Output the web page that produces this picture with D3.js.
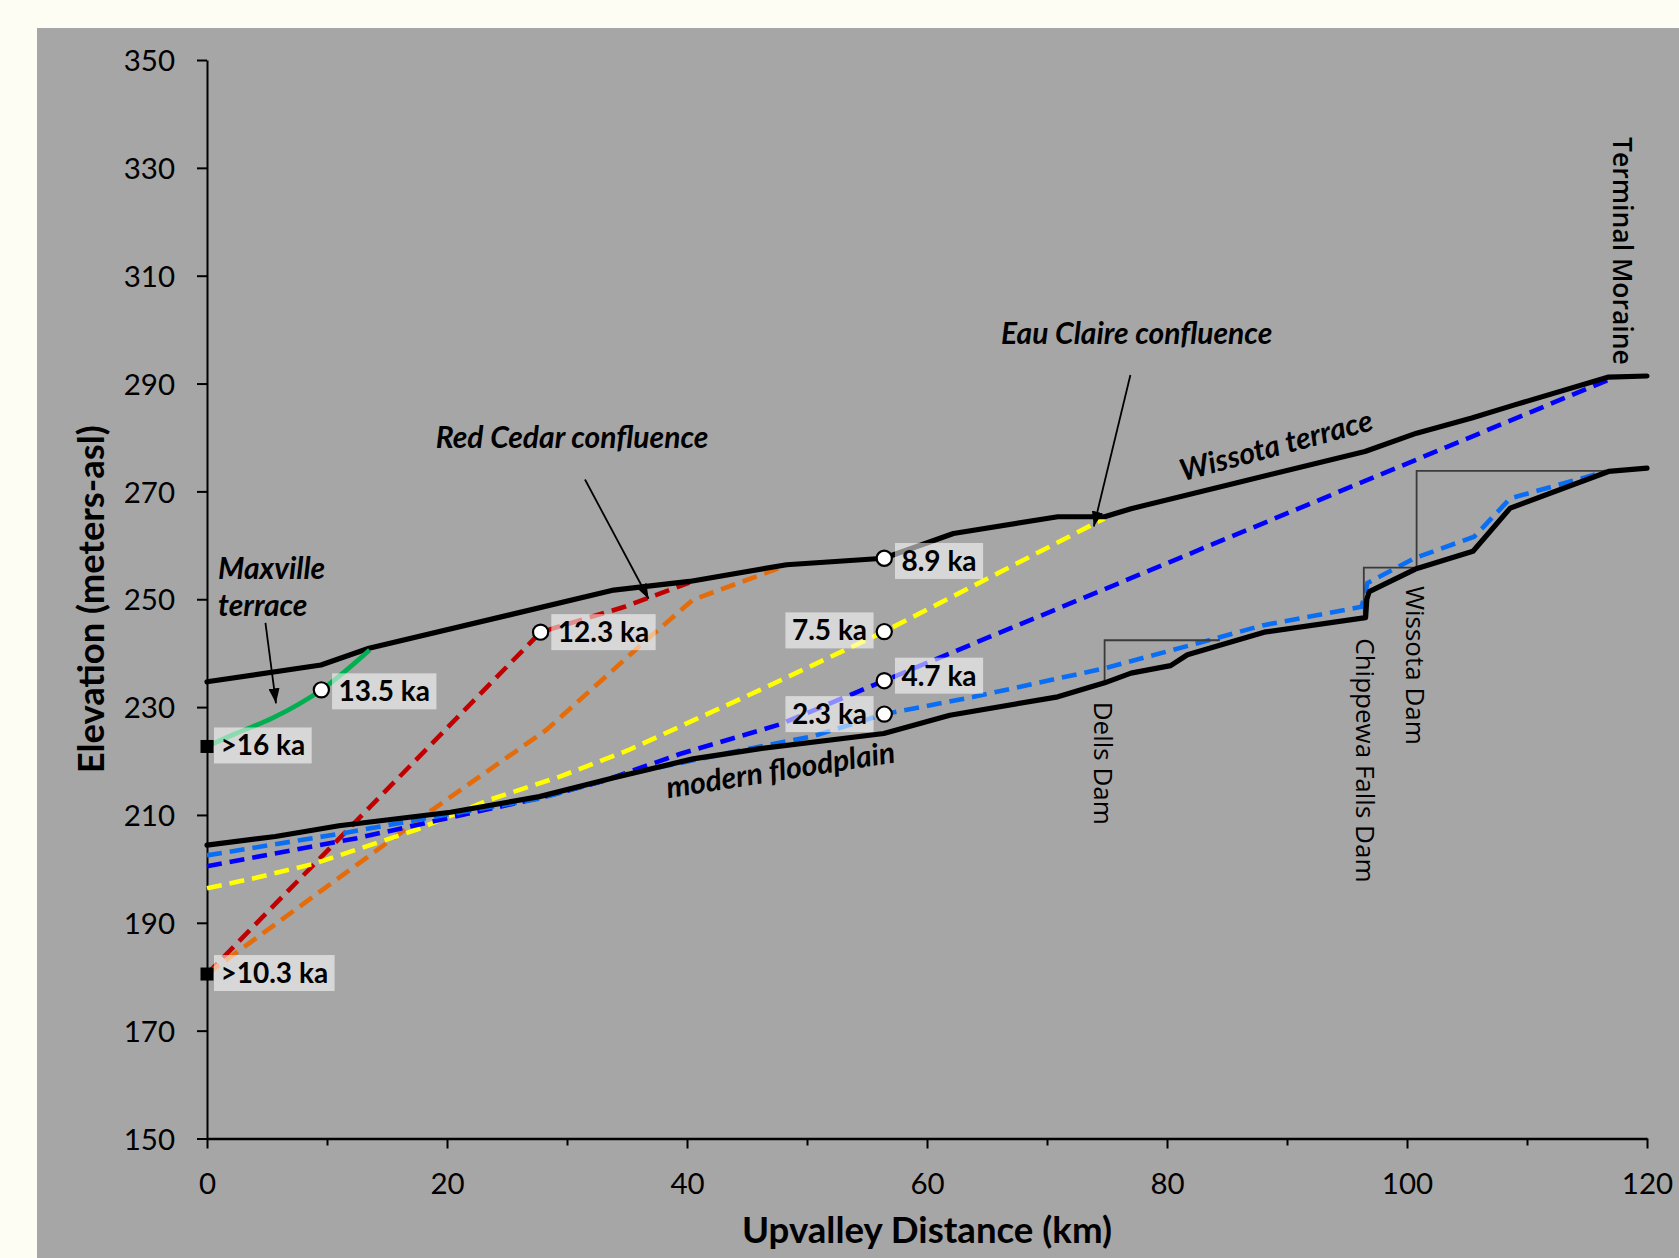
<!DOCTYPE html>
<html>
<head>
<meta charset="utf-8">
<script src="https://cdn.jsdelivr.net/npm/d3@7"></script>
<style>
  html, body { margin: 0; padding: 0; background: #FDFDF3; }
  svg { display: block; }
</style>
</head>
<body>
<svg id="chart" width="1679" height="1258"></svg>
<script>
// ---------------- DATA ----------------
const xTicks = [0, 10, 20, 30, 40, 50, 60, 70, 80, 90, 100, 110, 120];
const xTickLabels = ["0", "", "20", "", "40", "", "60", "", "80", "", "100", "", "120"];
const yTicks = [150, 170, 190, 210, 230, 250, 270, 290, 310, 330, 350];

// Wissota terrace (upper black line)
const wissotaKm   = [0, 9.5, 13.5, 33.9, 40.2, 48.3, 56.4, 62.2, 70.9, 74.8, 77.0, 86.0, 96.5, 100.8, 105.4, 108.9, 116.8, 120];
const wissotaElev = [234.7, 237.8, 240.9, 251.7, 253.3, 256.4, 257.6, 262.2, 265.3, 265.3, 266.8, 271.7, 277.4, 280.8, 283.6, 286.0, 291.2, 291.4];

// modern floodplain (lower black line)
const floodKm   = [0, 5.7, 11, 20.3, 27.7, 33.9, 40.5, 46.1, 56.4, 61.9, 70.9, 74.8, 77.0, 80.3, 81.7, 88.1, 96.55, 96.65, 96.85, 100.7, 105.5, 108.6, 116.8, 120];
const floodElev = [204.4, 206.0, 208.0, 210.5, 213.4, 216.9, 220.4, 222.3, 225.1, 228.5, 231.9, 234.5, 236.3, 237.7, 239.7, 243.9, 246.6, 250.0, 251.4, 255.6, 258.9, 266.9, 273.7, 274.3];

// Maxville terrace (green)
const maxvilleKm   = [0, 2.4, 5.4, 9.53, 13.55];
const maxvilleElev = [222.7, 225.1, 227.9, 233.2, 240.6];

// Reconstructed profiles (dashed)
const redKm   = [0, 27.8, 34.8, 40.2];
const redElev = [180.5, 243.9, 248.6, 253.1];

const orangeKm   = [0, 18.8, 28.3, 36.6, 40.5, 48.3];
const orangeElev = [180.5, 211.0, 225.8, 242.4, 249.9, 256.3];

const yellowKm   = [0, 4, 9, 17.5, 23.5, 29.4, 35.1, 46.1, 56.44, 74.8];
const yellowElev = [196.4, 198.3, 201.0, 207.3, 212.8, 217.1, 222.0, 233.2, 244.0, 265.0];

const darkBlueKm   = [0, 12.5, 28, 33, 39.4, 47.75, 56.44, 116.8];
const darkBlueElev = [200.5, 205.7, 213.3, 216.3, 221.3, 226.8, 234.9, 290.7];

const lightBlueKm   = [0, 11.3, 20.3, 27.7, 35, 45, 50.5, 56.44, 63.9, 74.8, 83.0, 88.05, 96.2, 96.5, 96.7, 100.6, 105.6, 108.6, 116.6];
const lightBlueElev = [202.5, 206.6, 210.2, 213.0, 217.6, 222.2, 224.6, 228.7, 231.9, 237.2, 242.1, 245.2, 248.6, 250.8, 253.0, 257.6, 261.6, 268.7, 273.7];

// Dated points (open circles)
const ageLabels = ["13.5 ka", "12.3 ka", "8.9 ka", "7.5 ka", "4.7 ka", "2.3 ka"];
const ageKm     = [9.53, 27.8, 56.44, 56.44, 56.44, 56.44];
const ageElev   = [233.2, 243.9, 257.6, 244.0, 234.9, 228.7];
const ageSide   = ["right", "right", "right", "left", "right", "left"];

// Minimum ages (black squares)
const minAgeLabels = [">16 ka", ">10.3 ka"];
const minAgeKm     = [0, 0];
const minAgeElev   = [222.7, 180.5];

// Dams: km of dam, base elev, pool elev, pool end km
const damNames   = ["Dells Dam", "Chippewa Falls Dam", "Wissota Dam"];
const damKm      = [74.8, 96.4, 100.8];
const damBase    = [234.5, 246.8, 256.0];
const damPool    = [242.4, 255.85, 273.8];
const damPoolEnd = [84.4, 100.6, 116.6];

// ---------------- CHART ----------------
const svg = d3.select("#chart");
const W = 1679, H = 1258;
const x = d3.scaleLinear().domain([0, 120]).range([207, 1647]);
const y = d3.scaleLinear().domain([150, 350]).range([1138.5, 60]);

const LATO = "Lato, 'Open Sans', sans-serif";
const OPEN = "'Open Sans', 'Noto Sans', sans-serif";

svg.append("rect").attr("x", 0).attr("y", 0).attr("width", W).attr("height", H).attr("fill", "#FDFDF3");
svg.append("rect").attr("x", 37).attr("y", 28).attr("width", W - 37).attr("height", H - 28).attr("fill", "#A6A6A6");

// arrow marker
svg.append("defs").append("marker")
  .attr("id", "arrow").attr("markerUnits", "userSpaceOnUse")
  .attr("viewBox", "0 0 15 11").attr("markerWidth", 15).attr("markerHeight", 11)
  .attr("refX", 15).attr("refY", 5.5).attr("orient", "auto")
  .append("path").attr("d", "M0,0 L15,5.5 L0,11 Z").attr("fill", "#000");

// Axes
const yAxis = d3.axisLeft(y).tickValues(yTicks).tickSize(10).tickSizeOuter(0).tickPadding(22).tickFormat(d3.format("d"));
const gy = svg.append("g").attr("transform", `translate(${x(0)},0)`).call(yAxis);
gy.select(".domain").attr("stroke", "#000").attr("stroke-width", 2);
gy.selectAll(".tick line").attr("stroke", "#000").attr("stroke-width", 2);
gy.selectAll(".tick text").attr("font-family", LATO).attr("font-size", 29.5).attr("fill", "#000").attr("dy", "0.36em");

const xAxis = d3.axisBottom(x).tickValues(xTicks).tickSize(10).tickSizeOuter(0).tickFormat((d, i) => xTickLabels[i]);
const gx = svg.append("g").attr("transform", `translate(0,${y(150)})`).call(xAxis);
gx.select(".domain").attr("stroke", "#000").attr("stroke-width", 2.5);
gx.selectAll(".tick line").attr("stroke", "#000").attr("stroke-width", 2)
  .attr("y2", (d, i) => xTickLabels[i] === "" ? 7 : 10);
gx.selectAll(".tick text").attr("font-family", LATO).attr("font-size", 29.5).attr("fill", "#000")
  .attr("y", 55.5).attr("dy", 0);

// Axis titles
svg.append("text").attr("x", (x(0) + x(120)) / 2).attr("y", 1242.5)
  .attr("text-anchor", "middle").attr("font-family", LATO).attr("font-weight", 700)
  .attr("font-size", 37).attr("textLength", 370).attr("lengthAdjust", "spacingAndGlyphs")
  .text("Upvalley Distance (km)");
svg.append("text").attr("transform", `translate(104,${(y(150) + y(350)) / 2}) rotate(-90)`)
  .attr("text-anchor", "middle").attr("font-family", LATO).attr("font-weight", 700)
  .attr("font-size", 37).attr("textLength", 348).attr("lengthAdjust", "spacingAndGlyphs")
  .text("Elevation (meters-asl)");

const zip = (a, b) => a.map((v, i) => [v, b[i]]);
const line = d3.line().x(d => x(d[0])).y(d => y(d[1]));
const smooth = d3.line().x(d => x(d[0])).y(d => y(d[1])).curve(d3.curveMonotoneX);

// Dashed profiles
const dashed = [
  [redKm, redElev, "#C00000"],
  [orangeKm, orangeElev, "#E46C0A"],
  [yellowKm, yellowElev, "#FFFF00"],
  [darkBlueKm, darkBlueElev, "#0000FF"],
  [lightBlueKm, lightBlueElev, "#0A6EF5"]
];
dashed.forEach(([k, e, c]) => {
  svg.append("path").attr("d", line(zip(k, e))).attr("fill", "none")
    .attr("stroke", c).attr("stroke-width", 4.6).attr("stroke-dasharray", "15,8");
});

// Dam outlines
damNames.forEach((n, i) => {
  svg.append("path")
    .attr("d", line([[damKm[i], damBase[i]], [damKm[i], damPool[i]], [damPoolEnd[i], damPool[i]]]))
    .attr("fill", "none").attr("stroke", "#3A3A3A").attr("stroke-width", 1.8);
});

// Black terrace/floodplain lines
[[wissotaKm, wissotaElev], [floodKm, floodElev]].forEach(([k, e]) => {
  svg.append("path").attr("d", line(zip(k, e))).attr("fill", "none")
    .attr("stroke", "#000").attr("stroke-width", 5.2).attr("stroke-linejoin", "round").attr("stroke-linecap", "round");
});

// Maxville (green)
svg.append("path").attr("d", smooth(zip(maxvilleKm, maxvilleElev))).attr("fill", "none")
  .attr("stroke", "#00B050").attr("stroke-width", 4.8);

// Arrows
const arrows = [
  [[4.87, 245.6], [5.75, 230.7]],
  [[31.5, 272.2], [36.8, 250.1]],
  [[76.95, 291.6], [73.9, 263.5]]
];
arrows.forEach(a => {
  svg.append("path").attr("d", line(a)).attr("stroke", "#000").attr("stroke-width", 1.8)
    .attr("fill", "none").attr("marker-end", "url(#arrow)");
});

// Italic annotations
function note(txt, km, elev, rot, size) {
  svg.append("text").attr("transform", `translate(${x(km)},${y(elev)}) rotate(${rot})`)
    .attr("font-family", LATO).attr("font-weight", 700).attr("font-style", "italic")
    .attr("font-size", size).attr("fill", "#000").text(txt);
}
note("Maxville", 0.92, 253.75, 0, 30);
note("terrace", 0.92, 246.9, 0, 30);
note("Red Cedar confluence", 19.06, 278.05, 0, 30);
note("Eau Claire confluence", 66.17, 297.28, 0, 30);
note("Wissota terrace", 81.33, 271.9, -15, 30);
note("modern floodplain", 38.42, 213.1, -9, 30);

// Rotated dam labels + moraine
damNames.forEach((n, i) => {
  const lx = [73.92, 95.73, 99.95][i], ly = [231.0, 242.76, 252.46][i];
  svg.append("text").attr("transform", `translate(${x(lx)},${y(ly)}) rotate(90)`)
    .attr("font-family", OPEN).attr("font-size", 26).attr("fill", "#000").text(n);
});
svg.append("text").attr("transform", `translate(${x(117.17)},${y(335.7)}) rotate(90)`)
  .attr("font-family", OPEN).attr("font-weight", 600).attr("font-size", 26.5).attr("fill", "#000")
  .text("Terminal Moraine");

// Square markers
minAgeKm.forEach((k, i) => {
  svg.append("rect").attr("x", x(k) - 6.5).attr("y", y(minAgeElev[i]) - 6.5)
    .attr("width", 13).attr("height", 13).attr("fill", "#000");
});

// Circle markers
ageKm.forEach((k, i) => {
  svg.append("circle").attr("cx", x(k)).attr("cy", y(ageElev[i])).attr("r", 7.6)
    .attr("fill", "#fff").attr("stroke", "#000").attr("stroke-width", 2.2);
});

// Label boxes
function labelBox(txt, px, py, side, gap, dy) {
  const g = svg.append("g");
  const t = g.append("text").attr("font-family", LATO).attr("font-weight", 700)
    .attr("font-size", 28).attr("fill", "#000").text(txt);
  const w = t.node().getComputedTextLength() + 13;
  const h = 36;
  const left = side === "right" ? px + gap : px - gap - w;
  const cy = py + dy;
  g.insert("rect", "text").attr("x", left).attr("y", cy - h / 2).attr("width", w).attr("height", h)
    .attr("fill", "rgba(255,255,255,0.55)");
  t.attr("x", left + 6.5).attr("y", cy + 10);
}
const ageDy = [1.5, 0, 2.7, -1.2, -5, 0];
ageLabels.forEach((l, i) => labelBox(l, x(ageKm[i]), y(ageElev[i]), ageSide[i], 10.7, ageDy[i]));
minAgeLabels.forEach((l, i) => labelBox(l, x(minAgeKm[i]), y(minAgeElev[i]), "right", 7, -1));
</script>
</body>
</html>
